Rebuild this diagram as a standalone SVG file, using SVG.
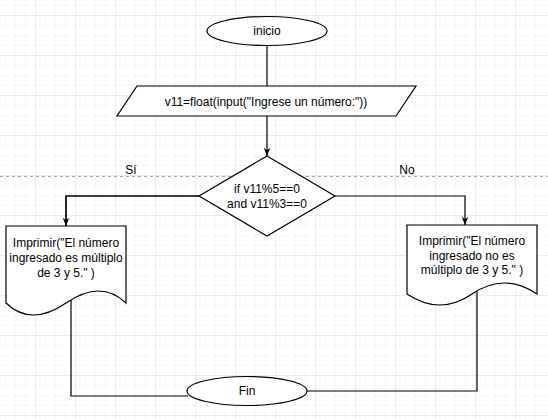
<svg xmlns="http://www.w3.org/2000/svg" width="548" height="419" viewBox="0 0 548 419">
<style>
.shape{fill:#ffffff;stroke:#000000;stroke-width:1.2}
.conn{fill:none;stroke:#000000;stroke-width:1.2}
.thick{stroke-width:1.7}
text{font-family:"Liberation Sans",Arial,sans-serif;font-size:12px;fill:#000000;text-anchor:middle;dominant-baseline:central}
</style>
<defs>
<pattern id="minor" x="6" y="6" width="10" height="10" patternUnits="userSpaceOnUse">
<path d="M10,0 V10 M0,10 H10" fill="none" stroke="#f1f1f1" stroke-width="1"/>
</pattern>
<pattern id="major" x="-4" y="-24" width="40" height="40" patternUnits="userSpaceOnUse">
<path d="M40,0 V40 M0,40 H40" fill="none" stroke="#dedede" stroke-width="1"/>
</pattern>
<marker id="arrow" viewBox="0 0 10 10" refX="10" refY="5" markerWidth="8" markerHeight="8" markerUnits="userSpaceOnUse" orient="auto">
<path d="M0,1 L10,5 L0,9 L2.5,5 Z" fill="#000000"/>
</marker>
</defs>
<rect width="548" height="419" fill="#ffffff"/>
<rect width="548" height="419" fill="url(#minor)"/>
<rect width="548" height="419" fill="url(#major)"/>
<line x1="0" y1="176.5" x2="548" y2="176.5" stroke="#a8a8a8" stroke-width="1" stroke-dasharray="3,3"/>

<g id="connectors">
<path class="conn" d="M267,46 V86"/>
<path class="conn" d="M267,116 V156" marker-end="url(#arrow)"/>
<path class="conn thick" d="M199,196 H66 V226" marker-end="url(#arrow)"/>
<path class="conn" d="M335,196 H465 V225" marker-end="url(#arrow)"/>
<path class="conn" d="M71,300 V396 H188"/>
<path class="conn" d="M477,290 V391 H307"/>
<text x="131" y="170">Sí</text>
<text x="407" y="170">No</text>
</g>

<g id="inicio">
<ellipse class="shape" cx="267" cy="31" rx="60" ry="14.5"/>
<text x="267" y="31">inicio</text>
</g>

<g id="input">
<polygon class="shape" points="137,86 416,86 396,116 117,116"/>
<text x="266" y="102">v11=float(input("Ingrese un número:"))</text>
</g>

<g id="decision">
<polygon class="shape" points="267,156 335,196 267,236 199,196"/>
<text x="267" y="189">if v11%5==0</text>
<text x="267" y="204">and v11%3==0</text>
</g>

<g id="si_output">
<path class="shape" d="M6,226 H126 V303 Q101,279 66,303 T6,303 Z"/>
<text x="66" y="243">Imprimir("El número</text>
<text x="66" y="258">ingresado es múltiplo</text>
<text x="66" y="273">de 3 y 5." )</text>
</g>

<g id="no_output">
<path class="shape" d="M407,225 H537 V294 Q504,272 472,294 T407,294 Z"/>
<text x="472" y="241">Imprimir("El número</text>
<text x="472" y="256">ingresado no es</text>
<text x="472" y="270">múltiplo de 3 y 5."  )</text>
</g>

<g id="fin">
<ellipse class="shape" cx="247" cy="391" rx="60" ry="14.5"/>
<text x="247" y="391">Fin</text>
</g>
</svg>
